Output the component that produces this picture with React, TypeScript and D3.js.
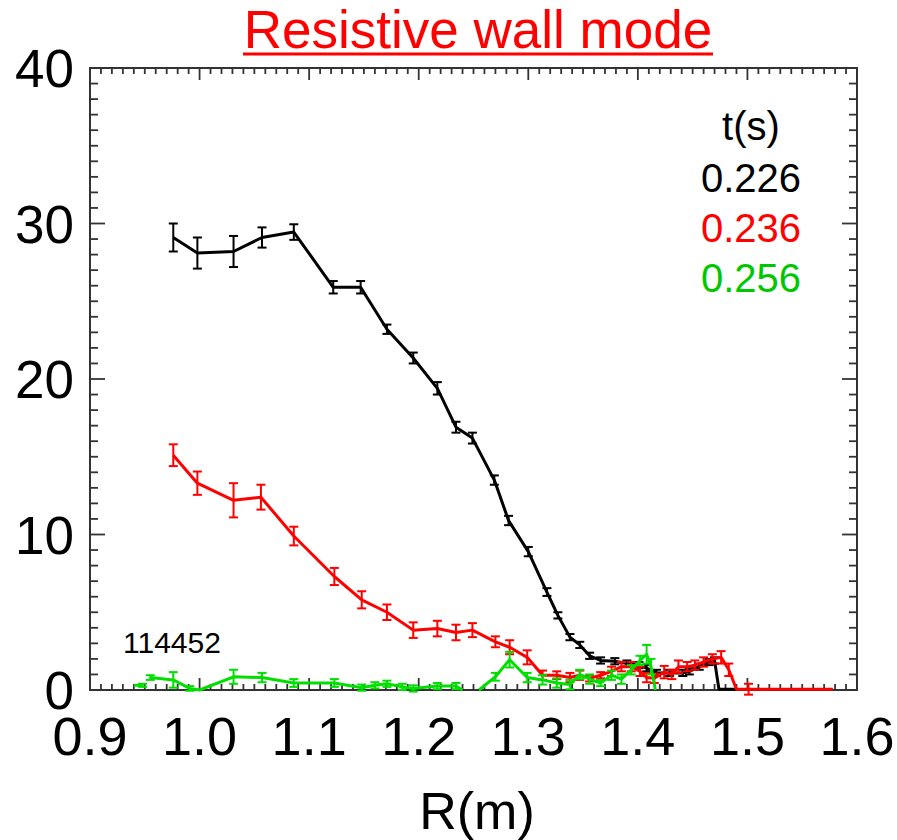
import React from "react";
import * as d3 from "d3";

type P = [number, number, number] | null;

const title = "Resistive wall mode";
const xLabel = "R(m)";
const shotLabel = "114452";
const legendTitle = "t(s)";
const seriesNames = ["0.226", "0.236", "0.256"];
const seriesColors = ["#000000", "#ff0000", "#00e000"];
const legendColors = ["#000000", "#ff0000", "#00c800"];
const xTicks = [0.9, 1.0, 1.1, 1.2, 1.3, 1.4, 1.5, 1.6];
const yTicks = [0, 10, 20, 30, 40];

// [R, value, error]
const black: P[] = [
  [0.976, 29.1, 0.9], [0.998, 28.1, 1.0], [1.031, 28.2, 1.0], [1.057, 29.1, 0.65],
  [1.086, 29.45, 0.5], [1.122, 25.9, 0.4], [1.147, 25.9, 0.4], [1.171, 23.2, 0.3],
  [1.195, 21.35, 0.35], [1.217, 19.4, 0.4], [1.234, 16.9, 0.35], [1.249, 16.2, 0.35],
  [1.269, 13.5, 0.3], [1.282, 10.9, 0.3], [1.3, 8.9, 0.3], [1.317, 6.3, 0.25],
  [1.327, 4.8, 0.2], [1.338, 3.4, 0.2], [1.347, 2.9, 0.2], [1.356, 2.2, 0.2],
  [1.366, 1.9, 0.2], [1.379, 1.85, 0.2], [1.39, 1.7, 0.2], [1.401, 1.6, 0.2],
  [1.408, 1.4, 0.2], [1.417, 1.1, 0.2], [1.429, 1.1, 0.2], [1.441, 1.1, 0.2],
  [1.447, 1.2, 0.2], [1.456, 1.5, 0.2], [1.465, 1.8, 0.2], [1.47, 1.9, 0.2],
  [1.474, 0.05, 0], [1.49, 0.05, 0],
];

const red: P[] = [
  [0.976, 15.1, 0.7], [0.998, 13.3, 0.75], [1.031, 12.2, 1.1], [1.056, 12.4, 0.8],
  [1.086, 9.9, 0.6], [1.123, 7.3, 0.55], [1.148, 5.8, 0.55], [1.171, 5.0, 0.5],
  [1.195, 3.85, 0.5], [1.217, 3.95, 0.5], [1.234, 3.7, 0.5], [1.249, 3.85, 0.45],
  [1.27, 3.1, 0.35], [1.283, 2.75, 0.45], [1.299, 2.1, 0.45], [1.313, 0.95, 0.3],
  [1.326, 0.95, 0.25], [1.338, 0.8, 0.3], [1.347, 0.95, 0.3], [1.356, 0.75, 0.2],
  [1.366, 0.95, 0.2], [1.376, 1.2, 0.3], [1.385, 1.5, 0.3], [1.394, 1.5, 0.3],
  [1.402, 1.2, 0.3], [1.408, 0.8, 0.3], [1.415, 0.75, 0.3], [1.424, 1.15, 0.4],
  [1.431, 1.0, 0.3], [1.437, 1.5, 0.4], [1.445, 1.5, 0.3], [1.452, 1.6, 0.3],
  [1.46, 1.8, 0.3], [1.468, 2.0, 0.3], [1.476, 2.1, 0.4], [1.483, 1.3, 0.4],
  [1.49, 0.05, 0], [1.501, 0.05, 0.35], [1.578, 0.05, 0],
];

const green: P[] = [
  [0.94, 0.3, 0], [0.948, 0.3, 0.1], null,
  [0.955, 0.8, 0.15], [0.976, 0.65, 0.5], [0.991, 0.1, 0.15], [1.0, 0.0, 0],
  [1.031, 0.85, 0.45], [1.057, 0.8, 0.3], [1.086, 0.45, 0.25], [1.123, 0.45, 0.25],
  [1.148, 0.15, 0.2], [1.16, 0.3, 0.2], [1.171, 0.4, 0.2], [1.185, 0.2, 0.2],
  [1.195, 0.1, 0.2], [1.217, 0.25, 0.2], [1.234, 0.25, 0.2], [1.24, 0.0, 0], null,
  [1.255, 0.0, 0], [1.27, 0.85, 0.25], [1.283, 1.95, 0.5], [1.299, 0.8, 0.3],
  [1.313, 0.65, 0.3], [1.326, 0.45, 0.3], [1.338, 0.35, 0.3], [1.347, 1.0, 0.3],
  [1.356, 0.7, 0.3], [1.366, 0.45, 0.2], [1.376, 0.95, 0.3], [1.385, 0.7, 0.3],
  [1.394, 1.3, 0.3], [1.402, 1.9, 0.3], [1.408, 2.3, 0.6], [1.412, 1.5, 0.5],
  [1.416, 0.0, 0],
];

const series = [black, red, green];

const W = 897;
const H = 840;
const left = 90, right = 857, top = 68, bottom = 690;
const font = "'Liberation Sans', Arial, sans-serif";

export default function App() {
  const x = d3.scaleLinear().domain([0.9, 1.6]).range([left, right]);
  const y = d3.scaleLinear().domain([0, 40]).range([bottom, top]);
  const line = d3
    .line<P>()
    .defined((d) => d !== null)
    .x((d) => x((d as any)[0]))
    .y((d) => y((d as any)[1]));

  const xMinor = d3.range(0, 71).map((i) => 0.9 + i * 0.01);
  const yMinor = d3.range(0, 41);
  const axisColor = "#333";

  return (
    <svg width={W} height={H} style={{ position: "absolute", left: 0, top: 0, background: "#fff" }} fontFamily={font}>
      <rect x={0} y={0} width={W} height={H} fill="#fff" />
      {/* title */}
      <text x={478} y={48} textAnchor="middle" fontSize={53} fill="#ff0000">{title}</text>
      <line x1={243} x2={713} y1={54} y2={54} stroke="#ff0000" strokeWidth={3} />

      {/* ticks */}
      <g stroke={axisColor} strokeWidth={1.8}>
        {xMinor.map((v, i) => {
          const major = i % 10 === 0;
          const L = major ? 12 : 6;
          const px = x(v);
          return (
            <g key={"xt" + i}>
              <line x1={px} x2={px} y1={top} y2={top + L} />
              <line x1={px} x2={px} y1={bottom} y2={bottom - L} />
            </g>
          );
        })}
        {yMinor.map((v, i) => {
          const major = i % 10 === 0;
          const L = major ? 15 : 8;
          const py = y(v);
          return (
            <g key={"yt" + i}>
              <line x1={left} x2={left + L} y1={py} y2={py} />
              <line x1={right} x2={right - L} y1={py} y2={py} />
            </g>
          );
        })}
      </g>
      <rect x={left} y={top} width={right - left} height={bottom - top} fill="none" stroke={axisColor} strokeWidth={2} />

      {/* tick labels */}
      {xTicks.map((v) => (
        <text key={"xl" + v} x={x(v)} y={755} textAnchor="middle" fontSize={54} fill="#000">{v.toFixed(1)}</text>
      ))}
      {yTicks.map((v) => (
        <text key={"yl" + v} x={74} y={y(v) + 19} textAnchor="end" fontSize={53} fill="#000">{v}</text>
      ))}
      <text x={477} y={829} textAnchor="middle" fontSize={52} fill="#000">{xLabel}</text>

      {/* data */}
      {series.map((s, si) => (
        <g key={"s" + si}>
          <path d={line(s) || ""} fill="none" stroke={seriesColors[si]} strokeWidth={3} strokeLinejoin="round" />
          <g stroke={seriesColors[si]} strokeWidth={2}>
            {s.filter((d) => d !== null && d[2] > 0).map((d, i) => {
              const [r, v, e] = d as [number, number, number];
              const px = x(r);
              const y1 = y(v - e);
              const y2 = y(v + e);
              return (
                <g key={i}>
                  <line x1={px} x2={px} y1={y1} y2={y2} />
                  <line x1={px - 4.5} x2={px + 4.5} y1={y1} y2={y1} />
                  <line x1={px - 4.5} x2={px + 4.5} y1={y2} y2={y2} />
                </g>
              );
            })}
          </g>
        </g>
      ))}

      {/* legend */}
      <text x={751} y={140} textAnchor="middle" fontSize={40} fill="#000">{legendTitle}</text>
      {seriesNames.map((n, i) => (
        <text key={n} x={751} y={192 + i * 50} textAnchor="middle" fontSize={40} fill={legendColors[i]}>{n}</text>
      ))}
      <text x={123} y={653} fontSize={30} fill="#000">{shotLabel}</text>
    </svg>
  );
}
